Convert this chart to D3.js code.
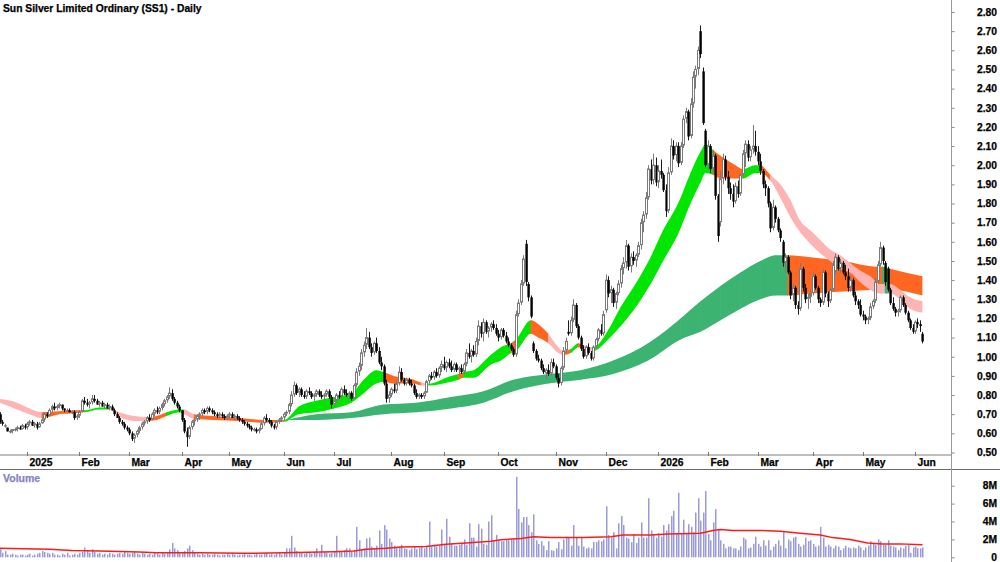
<!DOCTYPE html>
<html>
<head>
<meta charset="utf-8">
<title>Sun Silver Limited Ordinary (SS1) - Daily</title>
<script src="https://d3js.org/d3.v7.min.js"></script>
<style>
    body { margin: 0; background: #ffffff; }
    svg { display: block; font-family: "Liberation Sans", Arial, sans-serif; font-weight: bold; }
    .lbl { stroke-width: 0.25px; }
</style>
</head>
<body>
<svg id="chart" width="1000" height="562"></svg>
<script>
// daily bars [open, high, low, close] in cents, volume in millions
const dec24 = [[70,71,65,66,0.9],[66,67,64,65,0.5],[64,65,63,64,0.7],[63,63,61,61,0.3],[61,62,60,61,0.3],[61,62,60,62,0.4],[62,63,61,62,0.3],[62,64,61,63,0.2],[63,64,62,62,0.3],[62,65,62,64,0.3],[64,65,62,63,0.2]];
const jan25 = [[63,66,62,65,0.3],[65,67,64,66,0.4],[66,67,64,64,0.2],[64,66,63,65,0.3],[65,66,62,63,0.4],[63,66,63,65,0.5],[65,68,65,67,0.7],[67,71,66,70,0.6],[70,71,68,69,0.5],[69,73,69,72,0.4],[72,75,71,74,0.5],[74,76,72,73,0.3],[73,75,72,74,0.3],[74,76,73,75,0.2],[75,75,72,73,0.4],[73,73,71,72,0.3],[72,73,71,72,0.5],[72,73,71,71,0.2],[71,72,70,71,0.3],[71,72,67,68,0.4],[68,70,67,69,0.3]];
const feb25 = [[69,72,68,71,0.5],[71,78,71,77,0.6],[77,79,75,76,1.1],[76,78,74,75,0.7],[75,77,73,76,0.5],[76,80,75,78,0.9],[78,80,76,77,0.6],[77,78,75,75,0.4],[75,77,74,76,0.5],[76,77,74,74,0.3],[74,76,73,75,0.4],[75,76,73,73,0.3],[73,75,72,74,0.5],[74,75,72,72,0.4],[72,73,69,70,0.3],[70,71,68,68,0.4],[68,69,65,66,0.5],[66,67,64,65,0.4],[65,66,62,63,0.6],[63,64,61,62,0.5]];
const mar25 = [[62,63,59,60,0.4],[60,61,56,57,0.5],[57,60,55,59,0.6],[59,62,58,61,0.4],[61,64,60,63,0.3],[63,66,62,65,0.5],[65,67,64,66,0.4],[66,69,65,68,0.3],[68,70,66,67,0.4],[67,71,67,70,0.3],[70,73,69,72,0.5],[72,74,70,71,0.4],[71,74,70,73,0.3],[73,76,72,75,0.5],[75,78,74,77,0.4],[77,80,76,79,0.6],[79,84,78,81,0.9],[81,83,77,78,1.6],[78,79,75,76,1.0],[76,77,73,74,0.8],[74,75,71,72,0.5]];
const apr25 = [[72,72,66,67,0.5],[67,68,60,61,0.7],[61,63,53,58,1.0],[58,64,57,63,1.3],[63,67,62,66,0.8],[66,68,64,67,0.5],[67,70,66,69,0.4],[69,71,67,70,0.3],[70,73,69,72,0.4],[72,73,70,71,0.3],[71,74,70,73,0.4],[73,74,71,72,0.3],[72,73,70,71,0.3],[71,72,69,70,0.4],[70,71,68,69,0.3],[69,71,68,70,0.2],[70,71,68,69,0.3],[69,70,67,68,0.3],[68,70,67,69,0.4]];
const may25 = [[69,71,68,70,0.3],[70,71,68,68,0.4],[68,70,67,69,0.3],[69,70,67,68,0.2],[68,69,66,67,0.3],[67,68,65,66,0.3],[66,67,64,65,0.4],[65,66,63,64,0.3],[64,65,62,63,0.3],[63,64,61,62,0.2],[62,63,61,62,0.3],[62,63,60,61,0.4],[61,63,60,62,0.3],[62,66,62,65,0.3],[65,69,64,68,0.4],[68,70,66,67,0.5],[67,68,65,66,0.3],[66,67,63,64,0.4],[64,65,62,63,0.3],[63,67,62,66,0.4],[66,68,65,67,0.5],[67,69,66,68,0.3]];
const jun25 = [[68,71,67,70,0.5],[70,72,69,71,1.0],[71,76,70,75,1.0],[75,82,74,80,2.4],[80,87,79,85,1.1],[85,86,80,81,0.7],[81,84,79,83,0.6],[83,84,79,80,0.5],[80,82,78,79,0.4],[79,83,78,82,0.6],[82,84,80,81,0.5],[81,82,78,79,0.4],[79,81,77,80,0.6],[80,83,79,82,1.0],[82,83,79,80,0.5],[80,82,78,79,1.4],[79,81,77,80,0.6],[80,83,79,82,0.5],[82,83,78,79,0.4],[79,80,73,75,0.5]];
const jul25 = [[75,78,74,77,0.7],[77,81,76,80,2.4],[80,82,78,79,0.7],[79,84,78,83,0.6],[83,85,80,81,0.8],[81,83,79,80,1.0],[80,82,78,81,1.0],[81,82,77,78,0.6],[78,86,78,85,0.8],[85,94,84,92,3.4],[92,97,90,95,1.9],[95,104,93,102,0.8],[102,108,100,106,1.0],[106,115,104,110,2.1],[110,113,104,105,2.2],[105,107,100,102,1.2],[102,108,101,107,0.9],[107,110,102,103,1.3],[103,105,96,97,3.0],[97,100,93,95,1.5],[95,96,85,86,3.6],[86,88,76,78,3.1],[78,82,76,80,2.1]];
const aug25 = [[80,84,79,83,1.7],[83,86,81,82,1.3],[82,87,81,86,1.1],[86,95,85,92,1.2],[92,94,87,88,1.4],[88,89,85,86,1.0],[86,89,85,88,0.9],[88,89,85,86,0.8],[86,88,84,85,1.0],[85,86,80,81,1.2],[81,83,78,79,0.9],[79,81,78,80,1.1],[80,81,78,79,1.3],[79,82,78,81,1.0],[81,88,81,87,1.2],[87,91,86,90,4.0],[90,92,88,89,1.2],[89,93,88,92,1.4],[92,94,89,90,1.2],[90,95,89,94,1.3],[94,98,92,96,3.1]];
const sep25 = [[96,100,93,94,1.5],[94,98,92,97,4.3],[97,99,94,95,2.3],[95,98,92,93,1.5],[93,97,92,96,1.3],[96,97,92,93,1.3],[93,95,91,94,1.4],[94,96,91,92,1.6],[92,97,91,96,2.0],[96,104,95,102,1.4],[102,107,99,100,3.8],[100,104,97,103,2.2],[103,106,100,101,2.2],[101,110,100,108,1.2],[108,119,106,116,3.7],[116,118,110,112,3.2],[112,120,108,118,1.5],[118,119,112,113,1.4],[113,116,110,115,4.0],[115,118,113,117,4.7],[117,119,114,115,1.8],[115,117,111,112,2.5]];
const oct25 = [[112,114,108,110,1.9],[110,115,109,114,1.8],[114,115,110,111,1.8],[111,113,107,108,1.9],[108,110,105,106,1.9],[106,107,103,104,2.0],[104,105,100,101,2.0],[101,124,100,122,9.0],[122,130,121,128,5.4],[128,140,127,138,3.9],[138,153,137,151,4.5],[159,161,137,139,4.5],[138,139,129,131,3.6],[131,132,120,121,2.8],[107,108,102,103,4.8],[103,104,98,99,1.9],[99,101,97,98,1.5],[98,99,93,94,1.8],[94,96,91,92,1.3],[91,94,88,93,0.8],[93,96,90,91,1.8],[91,99,90,97,0.8],[97,99,94,95,0.7]];
const nov25 = [[95,96,88,89,1.0],[89,91,84,86,1.7],[86,95,85,94,0.9],[94,105,93,103,2.0],[103,110,102,108,2.3],[113,119,111,112,2.2],[112,121,111,119,1.3],[119,130,118,127,3.6],[127,128,115,116,2.2],[116,117,109,110,1.3],[110,111,103,104,2.2],[104,106,99,100,1.2],[100,106,99,105,1.0],[105,107,101,102,1.1],[102,103,98,99,1.0],[99,106,98,105,1.7],[105,110,104,109,1.7],[109,115,108,114,1.9],[114,117,111,112,1.8],[112,124,111,122,2.0]];
const dec25 = [[124,143,123,140,5.7],[140,142,131,133,2.5],[133,137,128,135,2.2],[135,136,126,128,2.8],[128,134,125,133,1.0],[133,140,132,138,3.8],[138,148,136,146,4.6],[146,152,143,149,3.6],[149,161,146,158,2.2],[158,159,145,147,2.1],[147,154,144,152,1.7],[152,155,148,150,2.6],[150,154,147,153,1.6],[153,160,152,158,2.2],[158,172,156,170,3.9],[170,176,165,174,2.2],[174,186,172,183,2.2],[183,200,182,198,6.6],[198,203,190,192,3.0],[192,206,190,200,2.5],[200,204,189,191,2.2]];
const jan26 = [[191,200,188,197,2.7],[197,203,193,195,2.3],[195,196,186,187,3.6],[187,190,173,176,3.0],[176,199,175,196,3.7],[196,214,195,210,4.6],[210,213,203,205,5.2],[205,212,202,210,2.6],[210,212,199,201,7.2],[201,212,200,210,2.7],[210,226,209,224,4.2],[224,230,222,228,2.7],[228,229,213,215,3.7],[215,235,214,232,3.4],[232,249,230,246,2.8],[246,252,240,250,5.0],[250,262,247,260,6.6],[270,273,256,258,4.1],[249,251,221,222,5.0],[218,219,199,200,7.4]];
const feb26 = [[200,213,198,210,2.6],[210,211,196,198,1.9],[198,208,196,205,3.9],[205,206,182,184,5.4],[184,185,160,163,3.1],[170,197,168,193,1.9],[193,206,190,203,1.5],[203,205,192,194,1.0],[194,197,185,188,1.2],[188,191,182,185,1.2],[185,190,178,181,1.0],[181,191,180,189,1.0],[189,192,183,185,0.8],[185,196,184,195,1.2],[195,208,194,206,2.2],[206,213,199,211,2.0],[211,213,202,204,1.0],[204,210,202,208,1.1],[208,221,206,210,1.5],[210,218,205,207,2.3]];
const mar26 = [[207,210,200,202,1.5],[202,206,195,197,1.2],[197,198,188,190,1.9],[190,192,184,188,1.3],[188,189,178,180,1.9],[180,181,165,167,0.8],[167,182,166,178,1.2],[178,179,170,172,1.5],[172,173,165,166,1.9],[166,167,160,162,1.3],[160,161,147,149,2.8],[149,154,144,152,1.0],[152,153,143,144,2.0],[144,145,130,132,1.8],[132,138,129,136,2.2],[136,137,125,127,2.3],[127,129,122,125,1.5],[125,149,124,146,1.2],[146,147,134,136,1.4],[136,138,128,130,2.2],[130,133,125,131,1.8],[131,135,128,133,1.9]];
const apr26 = [[133,144,132,142,1.5],[142,143,135,136,1.2],[136,137,128,130,1.3],[130,131,126,128,3.4],[128,146,127,144,2.2],[144,145,131,133,1.2],[133,134,126,129,1.4],[129,136,128,135,1.2],[135,150,134,148,1.0],[144,154,143,152,1.3],[152,153,145,146,1.2],[146,151,144,149,0.8],[149,150,143,144,1.0],[144,148,140,142,1.3],[142,146,134,136,1.1],[136,142,134,140,1.0],[140,141,131,132,1.1],[132,134,127,129,1.0],[129,130,125,127,1.3],[127,130,121,122,1.1]];
const may26 = [[122,124,119,121,0.8],[121,122,117,119,1.1],[119,121,117,120,1.3],[120,128,119,126,1.8],[126,130,125,129,1.5],[129,141,128,139,1.4],[139,150,138,148,2.0],[148,160,147,157,1.8],[157,158,148,150,1.4],[149,150,137,139,1.4],[146,147,134,135,1.9],[135,136,127,128,1.3],[128,131,124,125,1.2],[125,126,121,123,1.1],[123,125,121,124,0.8],[124,132,123,131,1.1],[131,132,126,127,1.0],[127,128,122,123,1.3],[123,124,118,119,1.4],[119,120,114,115,0.5],[115,117,112,113,1.1]];
const jun26 = [[113,119,112,118,1.2],[118,120,115,117,1.0],[117,119,113,116,1.0],[112,113,107,108,1.1]];

const months = [dec24, jan25, feb25, mar25, apr25, may25, jun25, jul25, aug25, sep25, oct25, nov25, dec25, jan26, feb26, mar26, apr26, may26, jun26];
const monthLabels = ["", "2025", "Feb", "Mar", "Apr", "May", "Jun", "Jul", "Aug", "Sep", "Oct", "Nov", "Dec", "2026", "Feb", "Mar", "Apr", "May", "Jun"];

// short-term ribbon (bar index, top, bottom) and colour of each segment
const shortIdx = [0,6,12,17,24,30,34,40,44,48,54,59,63,67,72,74,78,86,96,106,114,120,127,134,141,146,151,154,158,162,166,169,172,181,184,186,190,197,201,205,207,213,216,220,224,226,229,232,234,238,244,249,254,261,266,272,277,281,283,286,289,295,298,303,305,309,313,317,321,325,329,333,337,341,345,349,353,355,357,361,365,370];
const shortTop = [.78,.765,.73,.71,.715,.72,.72,.735,.735,.71,.69,.685,.69,.71,.725,.725,.70,.69,.68,.67,.67,.74,.77,.79,.81,.88,.93,.92,.90,.89,.88,.865,.86,.90,.91,.92,.93,1.01,1.05,1.07,1.09,1.19,1.17,1.12,1.05,1.03,1.04,1.07,1.06,1.05,1.14,1.26,1.36,1.52,1.66,1.80,1.96,2.07,2.11,2.08,2.05,2.00,1.98,2.00,2.00,1.95,1.90,1.82,1.71,1.66,1.61,1.56,1.53,1.49,1.45,1.42,1.38,1.38,1.38,1.35,1.31,1.29];
const shortBot = [.76,.73,.70,.68,.70,.705,.71,.725,.725,.685,.665,.665,.67,.69,.71,.70,.675,.67,.665,.655,.66,.70,.71,.73,.76,.81,.86,.87,.86,.86,.86,.85,.85,.87,.88,.89,.89,.96,.98,1.02,1.03,1.12,1.10,1.07,1.02,1.01,1.02,1.05,1.04,1.03,1.09,1.16,1.24,1.38,1.50,1.64,1.80,1.91,1.96,1.95,1.93,1.93,1.93,1.96,1.96,1.92,1.83,1.73,1.65,1.59,1.54,1.50,1.46,1.44,1.39,1.35,1.33,1.33,1.33,1.30,1.25,1.23];
const shortCol = "PPPOOOGGPPPOOGGPOOOOGGGGGGGOOOOPGGOGGGGOGOOPPOGOPGGGGGGGGGGOOOGGOPPPPPPPPPPPPSPPP";

// long-term ribbon
const longIdx = [115,127,141,154,167,181,194,206,220,233,246,260,273,281,289,297,305,311,316,325,338,352,354,357,370];
const longTop = [.67,.70,.71,.75,.76,.79,.82,.88,.91,.93,.98,1.07,1.20,1.29,1.37,1.44,1.50,1.53,1.53,1.52,1.50,1.47,1.47,1.46,1.42];
const longBot = [.67,.67,.68,.70,.71,.73,.76,.82,.86,.88,.91,.98,1.09,1.13,1.19,1.25,1.30,1.32,1.32,1.33,1.34,1.35,1.35,1.35,1.32];
const longCol = "SSSSSSSSSSSSSSSSSSOOOOSO";

// volume average line (millions)
const volAvgIdx = [0,20,29,40,56,63,80,98,114,134,142,147,155,161,171,179,187,197,201,209,214,221,234,245,250,261,268,281,286,289,294,305,313,321,329,334,341,348,354,361,370];
const volAvgVal = [1.0,0.9,0.75,0.7,0.58,0.5,0.5,0.45,0.5,0.63,0.7,0.9,1.0,1.15,1.2,1.45,1.6,1.8,1.95,2.1,2.3,2.2,2.2,2.3,2.5,2.5,2.6,2.7,3.0,3.1,3.0,3.0,2.9,2.7,2.5,2.2,2.0,1.6,1.5,1.5,1.4];

const priceTicks = d3.range(5, 29).map(d => d / 10);
const volTicks = [0, 2, 4, 6, 8];

const colours = {P: "#ffb4b4", O: "#ff6622", G: "#00e600", S: "#3cb371"};

const bars = [];
const monthStart = [];
months.forEach(function(m) {
    monthStart.push(bars.length);
    m.forEach(function(b) {
        bars.push({i: bars.length, o: b[0] / 100, h: b[1] / 100, l: b[2] / 100, c: b[3] / 100, v: b[4]});
    });
});

const axisX = 951.5;
const x = d3.scaleLinear().domain([11, 367]).range([27, 915]);
const y = d3.scaleLinear().domain([0.5, 2.8]).range([452.5, 12]);
const yv = d3.scaleLinear().domain([0, 8]).range([557.3, 485.7]);

const svg = d3.select("#chart");

svg.append("text")
    .attr("class", "lbl")
    .attr("x", 3)
    .attr("y", 12)
    .style("font-size", "10.3px")
    .attr("fill", "#000")
    .attr("stroke", "#000")
    .text("Sun Silver Limited Ordinary (SS1) - Daily");

// ribbons: the whole area is drawn once per segment and clipped to that segment
const defs = svg.append("defs");
let clipId = 0;
function drawRibbon(idx, top, bot, cols) {
    const pts = idx.map((d, k) => ({i: d, t: top[k], b: bot[k]}));
    const area = d3.area()
        .x(d => x(d.i))
        .y0(d => y(d.b))
        .y1(d => y(d.t))
        .curve(d3.curveMonotoneX);
    const g = svg.append("g");
    for (let k = 0; k < idx.length - 1; k++) {
        const id = "seg" + (clipId++);
        defs.append("clipPath").attr("id", id)
            .append("rect")
            .attr("x", x(idx[k]) - 0.3)
            .attr("width", x(idx[k + 1]) - x(idx[k]) + 0.6)
            .attr("y", 0)
            .attr("height", 460);
        g.append("path")
            .datum(pts)
            .attr("d", area)
            .attr("fill", colours[cols[k]])
            .attr("clip-path", "url(#" + id + ")");
    }
}
drawRibbon(longIdx, longTop, longBot, longCol);
drawRibbon(shortIdx, shortTop, shortBot, shortCol);

// candles
const candles = svg.append("g");
bars.forEach(function(d) {
    const cx = Math.round(x(d.i));
    const up = d.c >= d.o;
    candles.append("line")
        .attr("x1", cx + 0.5).attr("x2", cx + 0.5)
        .attr("y1", y(d.h)).attr("y2", y(d.l))
        .attr("stroke", up ? "#7a7a7a" : "#1a1a1a")
        .attr("stroke-width", 1);
    const top = y(Math.max(d.o, d.c));
    const hgt = Math.max(1, y(Math.min(d.o, d.c)) - top);
    if (up) {
        candles.append("rect")
            .attr("x", cx - 0.5).attr("y", top)
            .attr("width", 2).attr("height", Math.max(hgt - 1, 0.5))
            .attr("fill", "#ffffff")
            .attr("stroke", "#7a7a7a")
            .attr("stroke-width", 1);
    } else {
        candles.append("rect")
            .attr("x", cx - 0.6).attr("y", top)
            .attr("width", 2.4).attr("height", hgt)
            .attr("fill", "#000");
    }
});

// date strip
svg.append("line")
    .attr("x1", 0).attr("x2", axisX)
    .attr("y1", 455).attr("y2", 455)
    .attr("stroke", "#a8a8a8").attr("stroke-width", 1.5);
svg.append("line")
    .attr("x1", 0).attr("x2", 1000)
    .attr("y1", 469.5).attr("y2", 469.5)
    .attr("stroke", "#6a6a6a").attr("stroke-width", 1);

const ticks = monthStart.map((s, k) => ({i: s, label: monthLabels[k]})).filter(d => d.label);
const dateAxis = svg.append("g");
ticks.forEach(function(t) {
    const tx = Math.round(x(t.i)) + 0.5;
    dateAxis.append("line")
        .attr("x1", tx).attr("x2", tx)
        .attr("y1", 452).attr("y2", 456)
        .attr("stroke", "#777");
    dateAxis.append("text")
        .attr("class", "lbl")
        .attr("x", tx + 2)
        .attr("y", 466)
        .style("font-size", "10.3px")
        .attr("fill", "#000")
        .attr("stroke", "#000")
        .text(t.label);
});

// right hand axis
svg.append("line")
    .attr("x1", axisX).attr("x2", axisX)
    .attr("y1", 0).attr("y2", 562)
    .attr("stroke", "#9a9a9a").attr("stroke-width", 1);

const priceAxis = svg.append("g")
    .attr("transform", "translate(" + axisX + ",0)")
    .call(d3.axisRight(y).tickValues(priceTicks).tickFormat(d3.format(".2f")).tickSize(3));
priceAxis.select(".domain").remove();
priceAxis.selectAll("line").attr("stroke", "#888");
priceAxis.selectAll("text")
    .attr("class", "lbl")
    .attr("x", 45.5)
    .attr("text-anchor", "end")
    .style("font-family", "'Liberation Sans', Arial, sans-serif")
    .style("font-weight", "bold")
    .style("font-size", "10.3px")
    .attr("fill", "#000")
    .attr("stroke", "#000");

// volume panel
svg.append("text")
    .attr("class", "lbl")
    .attr("x", 3)
    .attr("y", 482)
    .style("font-size", "10.5px")
    .attr("fill", "#8484c4")
    .attr("stroke", "#8484c4")
    .text("Volume");

svg.append("g").selectAll("rect")
    .data(bars)
    .join("rect")
    .attr("x", d => Math.round(x(d.i)))
    .attr("y", d => yv(d.v))
    .attr("width", 1.5)
    .attr("height", d => yv(0) - yv(d.v))
    .attr("fill", "#9a9ad8");

const avgLine = d3.line()
    .x(d => x(d.i))
    .y(d => yv(d.v));
svg.append("path")
    .datum(volAvgIdx.map((d, k) => ({i: d, v: volAvgVal[k]})))
    .attr("d", avgLine)
    .attr("fill", "none")
    .attr("stroke", "#ff1a1a")
    .attr("stroke-width", 1.5);

const volAxis = svg.append("g")
    .attr("transform", "translate(" + axisX + ",0)")
    .call(d3.axisRight(yv).tickValues(volTicks).tickFormat(d => d ? d + "M" : "0").tickSize(3));
volAxis.select(".domain").remove();
volAxis.selectAll("line").attr("stroke", "#888");
volAxis.selectAll("text")
    .attr("class", "lbl")
    .attr("x", 45.5)
    .attr("text-anchor", "end")
    .style("font-family", "'Liberation Sans', Arial, sans-serif")
    .style("font-weight", "bold")
    .style("font-size", "10.3px")
    .attr("fill", "#000")
    .attr("stroke", "#000");
</script>
</body>
</html>
